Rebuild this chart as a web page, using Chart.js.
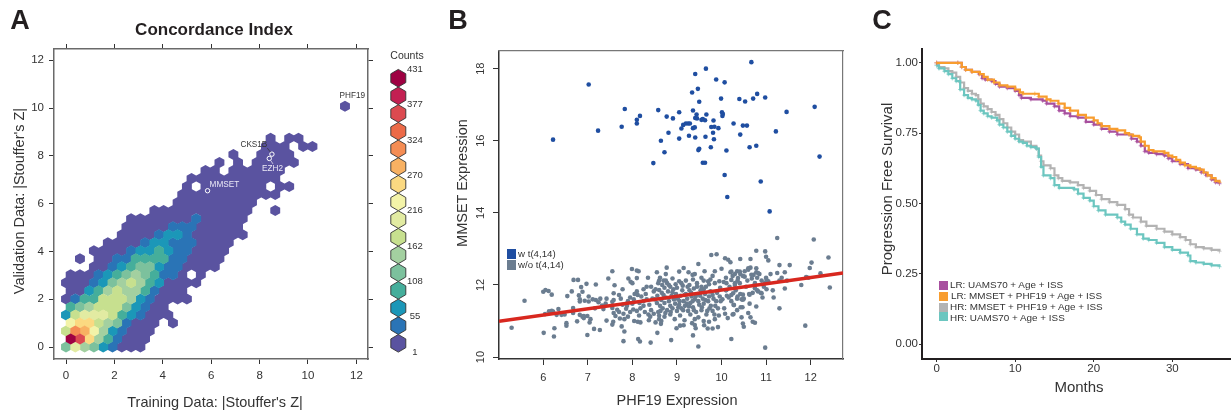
<!DOCTYPE html>
<html lang="en">
<head>
<meta charset="UTF-8">
<title>Concordance Index</title>
<script src="https://cdn.jsdelivr.net/npm/chart.js@4/dist/chart.umd.min.js"></script>
<style>
    html, body { margin: 0; padding: 0; background: #fff; overflow: hidden; }
    body { width: 1231px; height: 413px; position: relative; font-family: "Liberation Sans", sans-serif; color: #333; }
    canvas { position: absolute; }
    .t { position: absolute; white-space: nowrap; transform: translate(-50%, -50%); }
    .rot { transform: translate(-50%, -50%) rotate(-90deg); }
    .letter { font-size: 27px; font-weight: bold; color: #231f20; }
    .axis { font-size: 14.5px; }
    .key { position: absolute; width: 9px; height: 10px; }
    .keytext { position: absolute; white-space: nowrap; transform: translateY(-50%); }
</style>
</head>
<body>
<canvas id="hexChart" width="380" height="413" style="left:0;top:0"></canvas>
<canvas id="countChart" width="60" height="300" style="left:380px;top:60px"></canvas>
<canvas id="exprChart" width="420" height="413" style="left:440px;top:0"></canvas>
<canvas id="survChart" width="371" height="413" style="left:860px;top:0"></canvas>

<div class="t letter" style="left:20px;top:20px">A</div>
<div class="t letter" style="left:458px;top:20px">B</div>
<div class="t letter" style="left:882px;top:20px">C</div>

<div class="t" style="left:214px;top:30px;font-size:17px;font-weight:bold;color:#231f20">Concordance Index</div>
<div class="t axis" style="left:215px;top:402px">Training Data: |Stouffer's Z|</div>
<div class="t axis rot" style="left:19px;top:201px">Validation Data: |Stouffer's Z|</div>
<div class="t" style="left:407px;top:55px;font-size:10.5px">Counts</div>

<div class="t axis" style="left:677px;top:400px">PHF19 Expression</div>
<div class="t axis rot" style="left:462px;top:183px">MMSET Expression</div>
<div class="key" style="left:507px;top:249px;background:#1f4ea1"></div>
<div class="key" style="left:507px;top:260px;background:#6b7d90"></div>
<div class="keytext" style="left:518px;top:253px;font-size:9.7px">w t(4,14)</div>
<div class="keytext" style="left:518px;top:264px;font-size:9.7px">w/o t(4,14)</div>

<div class="t axis" style="left:1079px;top:386px;font-size:15px">Months</div>
<div class="t axis rot" style="left:886px;top:189px;font-size:15px">Progression Free Survival</div>
<div class="key" style="left:939px;top:281px;height:9px;background:#a8509f"></div>
<div class="key" style="left:939px;top:292px;height:9px;background:#f89d2f"></div>
<div class="key" style="left:939px;top:303px;height:9px;background:#b3b3b3"></div>
<div class="key" style="left:939px;top:312px;height:9px;background:#6cc6c0"></div>
<div class="keytext" style="left:950px;top:284px;font-size:9.9px">LR: UAMS70 + Age + ISS</div>
<div class="keytext" style="left:951px;top:295px;font-size:9.9px">LR: MMSET + PHF19 + Age + ISS</div>
<div class="keytext" style="left:950px;top:306px;font-size:9.9px">HR: MMSET + PHF19 + Age + ISS</div>
<div class="keytext" style="left:950px;top:317px;font-size:9.9px">HR: UAMS70 + Age + ISS</div>

<script>
    // ---------- panel A: hexbin ----------
    const _ = null
    const hexColors = ['#5a53a0', '#2a74b6', '#1b97b8', '#45ae9b', '#7cc19d', '#a3d0a0', '#c7e08f', '#e2eba2',
        '#f3f3a8', '#fbd981', '#f8b162', '#f58d54', '#ec6a48', '#dc4a50', '#c32052', '#9e0142']
    const countLabels = ['1', '55', '108', '162', '216', '270', '324', '377', '431']
    const countTicks = [-0.5, 1.5, 3.5, 5.5, 7.5, 9.5, 11.5, 13.5, 15.5]
    const binX = 0.3843
    const binY = 0.3358
    // one row per hex row, bottom to top, value = colour bin of the counts key
    const hexRows = [
        [4, 7, 5, 4, 2, 1, 0, 0, 0],
        [15, 13, 9, 5, 3, 1, 0, 0, 0],
        [6, 11, 10, 8, 5, 2, 1, 0, 0, 0],
        [8, 9, 9, 6, 5, 4, 1, 0, 0, 0, _, 0],
        [2, 6, 7, 7, 7, 6, 3, 2, 1, 0, 0, 0],
        [3, 4, 5, 6, 6, 6, 4, 2, 1, 0, 0],
        [0, 1, 3, 3, 6, 6, 6, 5, 2, 1, 0, 0, 0, 0],
        [0, 0, 2, 3, 5, 6, 5, 5, 3, 1, 0, 0, 0],
        [0, 0, 0, 1, 2, 4, 5, 6, 5, 3, 2, 0, 0, 0, 0],
        [0, 0, 0, 1, 2, 3, 4, 5, 4, 3, 1, 1, 0, _, 0],
        [_, _, _, 0, 0, 1, 2, 3, 4, 4, 2, 1, 1, 0, 0, 0, 0],
        [_, 0, _, 0, 0, 1, 1, 3, 3, 3, 3, 1, 1, 0, 0, 0, 0],
        [_, _, _, 0, 0, 0, 0, 1, 2, 2, 3, 2, 1, 1, 0, 0, 0, 0],
        [_, _, _, _, 0, 0, 0, 0, 1, 2, 2, 1, 1, 1, 0, 0, 0, 0],
        [_, _, _, _, _, _, 0, 0, 0, 0, 1, 2, 2, 1, 0, 0, 0, 0, 0, 0],
        [_, _, _, _, _, _, 0, 0, 0, 0, 0, 1, 1, 1, 0, 0, 0, 0, 0],
        [_, _, _, _, _, _, _, 0, 0, 0, 0, 0, 0, 0, 1, 0, 0, 0, 0, 0],
        [_, _, _, _, _, _, _, _, _, 0, 0, 0, 0, 0, 0, 0, 0, 0, 0, 0, _, _, 0],
        [_, _, _, _, _, _, _, _, _, _, _, _, 0, 0, 0, 0, 0, 0, 0, 0, 0],
        [_, _, _, _, _, _, _, _, _, _, _, _, 0, 0, 0, 0, 0, 0, 0, 0, 0, 0, 0],
        [_, _, _, _, _, _, _, _, _, _, _, _, _, 0, _, 0, 0, 0, 0, 0, 0, 0, _, 0, 0],
        [_, _, _, _, _, _, _, _, _, _, _, _, _, 0, 0, 0, 0, 0, 0, 0, 0, 0, 0],
        [_, _, _, _, _, _, _, _, _, _, _, _, _, _, _, 0, 0, _, 0, 0, 0, 0, 0, 0],
        [_, _, _, _, _, _, _, _, _, _, _, _, _, _, _, _, 0, _, 0, _, 0, 0, 0, 0, 0],
        [_, _, _, _, _, _, _, _, _, _, _, _, _, _, _, _, _, _, 0, _, _, 0, 0, 0, 0],
        [_, _, _, _, _, _, _, _, _, _, _, _, _, _, _, _, _, _, _, _, _, 0, 0, 0, _, 0, 0],
        [_, _, _, _, _, _, _, _, _, _, _, _, _, _, _, _, _, _, _, _, _, _, 0, _, 0, 0],
        [],
        [],
        [],
        [_, _, _, _, _, _, _, _, _, _, _, _, _, _, _, _, _, _, _, _, _, _, _, _, _, _, _, _, _, _, 0]
    ]
    const geneNames = ['MMSET', 'CKS1B', 'EZH2', 'PHF19']
    const geneX = [5.85, 8.51, 8.40, 11.53]
    const geneY = [6.54, 8.07, 7.89, 10.07]
    const axisTicksA = [0, 2, 4, 6, 8, 10, 12]

    // ---------- panel B: scatter ----------
    const ticksBX = [6, 7, 8, 9, 10, 11, 12]
    const ticksBY = [10, 12, 14, 16, 18]
    const fitLineX = [5.007, 12.726]
    const fitLineY = [10.99, 12.33]
    const withT414 = [
        [6.22, 16.03], [7.02, 17.56], [7.23, 16.28], [7.76, 16.39], [7.83, 16.88], [8.1, 16.58], [8.1, 16.48], [8.17, 16.69],
        [8.47, 15.38], [8.58, 16.85], [8.64, 16.0], [8.72, 15.68], [8.77, 16.67], [8.81, 16.22], [8.91, 16.62], [9.05, 16.79],
        [9.05, 16.06], [9.1, 16.34], [9.14, 16.44], [9.2, 16.48], [9.25, 16.48], [9.29, 16.48], [9.27, 16.14], [9.34, 17.34],
        [9.36, 16.84], [9.36, 16.35], [9.4, 16.37], [9.41, 17.85], [9.41, 16.09], [9.41, 16.63], [9.44, 16.73], [9.45, 16.62],
        [9.47, 17.44], [9.5, 17.08], [9.48, 15.74], [9.5, 15.78], [9.55, 16.58], [9.58, 16.6], [9.58, 15.39], [9.63, 15.39],
        [9.63, 16.57], [9.64, 16.11], [9.65, 18.0], [9.66, 16.73], [9.76, 15.82], [9.77, 16.38], [9.81, 16.22], [9.82, 16.56],
        [9.83, 16.04], [9.84, 16.39], [9.88, 17.7], [9.93, 16.35], [9.99, 17.17], [10.01, 16.79], [10.02, 16.69], [10.03, 16.74],
        [10.07, 17.62], [10.07, 15.05], [10.11, 15.73], [10.13, 14.44], [10.27, 16.48], [10.4, 17.16], [10.42, 16.17], [10.48, 16.42],
        [10.57, 16.42], [10.53, 17.09], [10.63, 15.82], [10.67, 18.18], [10.71, 17.17], [10.78, 15.86], [10.8, 17.3], [10.88, 14.87],
        [10.98, 17.2], [11.08, 14.04], [11.22, 16.26], [11.46, 16.8], [12.09, 16.94], [12.2, 15.56]
    ]
    const withoutT414 = [
        [5.29, 10.81], [5.58, 11.56], [6.0, 11.81], [6.05, 11.86], [6.12, 11.83], [6.19, 11.73], [6.01, 10.67], [6.25, 10.8], [6.24, 10.57],
        [6.04, 11.19], [6.13, 11.27], [6.19, 11.28], [6.22, 11.26], [6.3, 11.17], [6.34, 11.33], [6.41, 11.17], [6.48, 11.18], [6.52, 10.94],
        [6.52, 10.87], [6.54, 11.69], [6.64, 11.82], [6.68, 12.14], [6.78, 12.14], [6.67, 11.36], [6.67, 11.22], [6.76, 10.99], [6.85, 11.94],
        [6.88, 11.81], [6.8, 11.71], [6.82, 11.6], [6.82, 11.54], [6.93, 11.56], [7.02, 11.54], [6.97, 12.03], [7.18, 12.01], [6.82, 11.17],
        [6.88, 11.12], [6.91, 11.08], [6.99, 11.14], [6.91, 11.14], [7.06, 11.05], [7.04, 10.96], [7.14, 10.78], [7.27, 10.75], [6.99, 10.61],
        [7.02, 11.68], [7.11, 11.6], [7.18, 11.58], [7.28, 11.62], [7.42, 11.62], [7.24, 11.52], [7.32, 11.43], [7.4, 11.48], [7.55, 11.53],
        [7.58, 11.58], [7.16, 11.35], [7.35, 11.33], [7.55, 11.36], [7.66, 11.31], [7.78, 11.45], [7.7, 11.72], [7.74, 11.62], [7.46, 12.18],
        [7.55, 12.38], [7.6, 11.99], [7.58, 11.77], [7.78, 11.88], [7.42, 11.01], [7.55, 10.9], [7.57, 10.98], [7.76, 10.85], [7.82, 10.71],
        [7.8, 10.44], [7.58, 11.22], [7.62, 11.14], [7.7, 11.25], [7.8, 11.2], [7.86, 11.34], [7.72, 11.07], [7.82, 11.05], [7.9, 11.12],
        [7.95, 11.25], [7.99, 12.44], [8.1, 12.4], [8.14, 12.38], [7.91, 12.18], [7.96, 12.09], [8.0, 12.05], [8.1, 12.19], [8.35, 12.2],
        [8.05, 11.75], [7.95, 11.65], [8.03, 11.6], [8.12, 11.72], [8.2, 11.68], [8.16, 11.5], [8.25, 11.88], [8.32, 11.95], [8.25, 11.55],
        [8.02, 11.32], [8.1, 11.28], [8.18, 11.35], [8.28, 11.25], [8.36, 11.18], [8.04, 11.0], [8.12, 10.98], [8.18, 10.96], [8.37, 11.02],
        [8.13, 10.5], [8.17, 10.43], [8.41, 10.4], [8.56, 10.67], [8.52, 10.96], [8.64, 10.92], [8.65, 11.0], [8.87, 10.47], [8.48, 11.2],
        [8.55, 12.35], [8.62, 12.2], [8.7, 12.12], [8.77, 12.48], [8.58, 12.05], [8.67, 12.0], [8.75, 12.3], [8.78, 12.05], [8.42, 11.95],
        [8.48, 11.82], [8.56, 11.7], [8.6, 11.86], [8.66, 11.78], [8.72, 11.92], [8.8, 11.82], [8.85, 11.95], [8.92, 11.88], [8.97, 12.02],
        [9.05, 12.37], [9.15, 12.47], [9.26, 12.35], [9.05, 12.1], [9.13, 11.98], [9.2, 12.12], [9.28, 12.0], [9.36, 12.15], [9.4, 12.3],
        [9.48, 12.58], [9.45, 12.05], [9.55, 12.2], [9.62, 12.38], [9.7, 12.1], [9.65, 11.95], [9.8, 12.25], [9.85, 12.38], [9.77, 12.83],
        [9.89, 12.85], [10.08, 12.74], [10.15, 12.7], [10.2, 12.63], [10.0, 12.45], [10.1, 12.2], [10.2, 12.35], [10.3, 12.05], [10.25, 12.25],
        [8.5, 11.6], [8.55, 11.5], [8.62, 11.42], [8.65, 11.58], [8.68, 11.35], [8.72, 11.5], [8.75, 11.65], [8.78, 11.3], [8.82, 11.55],
        [8.85, 11.42], [8.88, 11.7], [8.9, 11.35], [8.93, 11.6], [8.96, 11.48], [8.98, 11.75], [9.0, 11.28], [9.02, 11.62], [9.05, 11.45],
        [9.08, 11.7], [9.1, 11.35], [9.12, 11.85], [9.15, 11.55], [9.18, 11.42], [9.2, 11.75], [9.23, 11.62], [9.25, 11.28], [9.28, 11.85],
        [9.3, 11.5], [9.33, 11.68], [9.36, 11.38], [9.38, 11.9], [9.4, 11.6], [9.43, 11.25], [9.46, 11.75], [9.5, 11.45], [9.53, 11.85],
        [9.55, 11.3], [9.58, 11.62], [9.6, 11.48], [9.63, 11.75], [9.66, 11.18], [9.7, 11.55], [9.73, 11.35], [9.75, 11.82], [9.8, 11.28],
        [9.82, 11.62], [9.86, 11.42], [9.9, 11.78], [9.94, 11.15], [9.97, 11.92], [10.02, 11.6], [10.06, 11.35], [10.1, 11.85], [10.14, 11.08],
        [10.18, 11.95], [10.22, 11.72], [10.27, 11.45], [10.32, 11.85], [10.36, 12.12], [10.42, 11.75], [10.47, 11.38], [10.5, 11.62],
        [10.55, 11.95], [10.6, 11.22], [8.6, 11.15], [8.72, 11.12], [8.85, 11.18], [8.95, 11.05], [9.07, 11.15], [9.17, 11.02], [9.3, 11.18],
        [9.4, 11.05], [9.48, 11.1], [9.6, 11.0], [9.72, 10.98], [9.85, 11.05], [8.99, 10.8], [9.07, 10.87], [9.15, 10.88], [9.34, 10.94],
        [9.4, 10.89], [9.42, 10.8], [9.61, 10.88], [9.69, 10.79], [9.8, 10.79], [9.92, 10.83], [9.36, 10.6], [9.48, 10.29], [10.22, 10.5],
        [10.98, 10.26], [11.88, 10.87], [9.98, 11.55], [10.08, 11.2], [10.12, 11.7], [10.25, 11.18], [10.35, 11.3], [10.45, 11.1], [10.48, 10.93],
        [10.5, 10.84], [10.65, 11.1], [10.7, 10.98], [10.75, 10.95], [10.78, 11.4], [10.3, 12.3], [10.35, 12.38], [10.42, 12.3], [10.48, 12.25],
        [10.52, 12.38], [10.6, 12.42], [10.65, 12.48], [10.72, 12.28], [10.78, 12.35], [10.85, 12.3], [10.58, 12.12], [10.68, 12.18], [10.75, 12.05],
        [10.8, 12.2], [10.9, 12.12], [10.95, 11.95], [11.0, 12.2], [11.02, 12.08], [10.62, 11.75], [10.7, 11.78], [10.8, 11.85], [10.88, 11.78],
        [10.92, 11.65], [11.15, 11.85], [11.17, 11.65], [11.3, 11.35], [10.65, 12.72], [10.78, 12.95], [10.98, 12.93], [11.0, 12.78], [11.05, 12.68],
        [11.25, 13.3], [11.3, 12.55], [11.53, 12.55], [10.42, 12.72], [11.35, 12.2], [11.25, 12.33], [11.3, 12.12], [11.47, 12.12], [11.42, 11.9],
        [11.79, 12.0], [11.95, 12.2], [11.98, 12.47], [12.02, 12.62], [12.07, 13.26], [12.22, 12.32], [12.4, 12.76], [12.43, 11.93], [11.1, 12.3],
        [11.05, 12.1], [10.45, 11.6], [10.22, 11.55], [10.35, 11.62], [9.95, 12.1], [10.05, 12.08], [9.72, 12.02], [9.55, 11.95], [9.85, 12.05],
        [10.6, 12.46], [10.41, 12.37], [10.22, 12.37], [10.78, 12.46], [10.82, 12.33], [10.67, 12.28], [10.52, 12.23], [10.37, 12.19], [10.22, 12.14],
        [10.11, 12.05], [10.3, 12.0], [10.41, 12.05], [11.01, 12.14], [10.97, 12.05], [10.75, 11.91], [10.82, 11.82], [10.63, 11.73], [10.9, 11.77],
        [11.01, 11.88], [10.48, 11.73], [10.48, 11.59], [10.36, 11.68], [10.16, 11.65], [10.26, 11.77], [10.11, 11.86], [10.63, 11.48], [10.43, 11.38],
        [10.28, 11.44], [10.27, 11.19], [11.42, 12.35], [11.9, 12.22],
        [8.45, 11.62], [8.52, 11.88], [8.6, 12.12], [8.63, 11.28], [8.7, 11.72], [8.74, 11.22], [8.82, 12.0], [8.86, 11.25], [8.9, 11.8],
        [8.95, 11.62], [9.0, 11.92], [9.03, 11.38], [9.06, 11.55], [9.1, 12.05], [9.14, 11.3], [9.17, 11.72], [9.22, 11.48], [9.24, 11.95],
        [9.27, 11.4], [9.32, 11.78], [9.35, 11.55], [9.38, 11.3], [9.42, 11.68], [9.45, 11.95], [9.48, 11.55], [9.52, 11.7], [9.56, 11.38],
        [9.6, 11.88], [9.64, 11.58], [9.68, 11.28], [9.72, 11.68], [9.76, 11.42], [9.8, 11.72], [9.84, 11.18], [9.88, 11.55], [9.92, 11.35],
        [9.96, 11.68], [9.75, 12.15], [9.6, 12.12], [9.35, 12.28], [8.9, 12.18], [8.75, 12.12], [8.3, 11.75], [8.38, 11.45], [8.42, 11.3],
        [8.32, 11.6], [8.25, 11.42], [8.15, 11.15], [8.0, 11.48], [7.9, 11.55], [7.88, 11.42], [8.58, 11.25], [8.4, 11.12], [8.6, 11.05], [8.1, 11.82]
    ]

    // ---------- panel C: survival curves, [months, survival] ----------
    const ticksCX = [0, 10, 20, 30]
    const ticksCY = [0, 0.25, 0.5, 0.75, 1]
    const lrMmset = [[0, 1], [2.7, 1], [3.2, .985], [3.7, .975], [4.5, .968], [5.5, .96], [6, .95], [6.5, .94], [7.3, .93], [8, .92], [9, .915], [10, .905],
        [10.6, .895], [11, .89], [12.5, .89], [13, .88], [14, .87], [14.5, .865], [15.5, .855], [16.3, .84], [17, .83], [18, .815], [19, .805], [20, .795],
        [20.5, .785], [21, .775], [22, .765], [23, .76], [24, .75], [24.5, .745], [25, .74], [25.8, .735], [26, .72], [26.5, .705], [27, .69], [27.6, .685],
        [29, .68], [29.5, .67], [30, .665], [30.5, .655], [31, .645], [31.6, .635], [32.3, .63], [33, .625], [33.5, .62], [34, .61], [34.5, .6], [35, .59],
        [35.5, .58], [36, .575]]
    const lrUams = [[0, 1], [2.7, 1], [3.2, .985], [3.7, .975], [4.5, .968], [5.4, .96], [5.8, .945], [6.2, .94], [7, .935], [7.5, .925], [8, .915], [9, .91],
        [10, .9], [10.5, .885], [10.8, .875], [12, .87], [13.5, .865], [14, .855], [15, .845], [15.6, .83], [16.3, .82], [17, .81], [18, .805], [19, .79],
        [20, .78], [21, .765], [22, .755], [23, .745], [24.5, .745], [24.8, .73], [25.5, .72], [26, .705], [26.5, .685], [27, .68], [28, .675], [29, .67],
        [29.5, .66], [30, .65], [31, .64], [32, .625], [33, .62], [33.7, .61], [34.3, .6], [35, .585], [35.5, .575], [36, .57]]
    const hrMmset = [[0, .995], [.3, .985], [1, .98], [1.5, .97], [2, .965], [2.5, .95], [3, .93], [3.5, .91], [4, .9], [4.5, .89], [5, .885], [5.3, .87],
        [5.6, .855], [6, .845], [6.5, .835], [7, .825], [7.5, .815], [8, .8], [8.5, .785], [9, .77], [9.5, .755], [10, .745], [10.5, .725], [11, .72],
        [12, .705], [12.7, .695], [13, .67], [13.3, .65], [13.6, .635], [14.5, .625], [15, .6], [15.5, .59], [16, .58], [17, .575], [18, .565], [18.7, .555],
        [19.5, .545], [20.3, .53], [21, .515], [22, .505], [23, .495], [24, .48], [24.5, .46], [25, .45], [26, .435], [26.7, .42], [28, .41], [29, .4],
        [30, .39], [31, .38], [31.7, .37], [32.3, .355], [33, .345], [34, .34], [35, .335], [36, .33]]
    const hrUams = [[0, .99], [.3, .98], [1, .97], [1.5, .96], [2, .945], [2.5, .935], [3, .905], [3.5, .885], [4, .875], [4.5, .87], [5, .865], [5.3, .85],
        [5.6, .83], [6, .82], [6.5, .81], [7, .805], [7.7, .795], [8, .78], [8.5, .77], [9, .755], [9.5, .74], [10, .73], [10.5, .72], [11, .715], [11.5, .705],
        [12, .7], [12.7, .695], [13, .665], [13.3, .63], [13.6, .6], [14.5, .59], [15, .565], [15.6, .555], [17.5, .55], [18, .535], [18.7, .52], [19.5, .51],
        [20, .49], [20.6, .475], [21.5, .46], [23, .45], [23.5, .435], [24, .425], [24.7, .41], [25.5, .39], [26.3, .375], [27, .37], [28, .36], [29, .345],
        [30, .335], [31, .325], [32, .315], [32.3, .295], [33, .29], [34, .285], [35, .28], [36, .275]]

    // ---------- helpers ----------
    const tickFont = size => ({ family: '"Liberation Sans", sans-serif', size: size })
    const toXY = list => list.map(p => ({ x: p[0], y: p[1] }))
    const setTicks = values => scale => { scale.ticks = values.map(v => ({ value: v })) }
    const fixWidth = w => scale => { scale.width = w }
    const fixHeight = h => scale => { scale.height = h }

    // paints the points of the last dataset as pointy-top hexagons, one path per colour bin
    function hexCells(w, h, stroke) {
        return {
            id: 'hexCells',
            beforeDatasetsDraw(chart) {
                const g = chart.ctx
                const last = chart.data.datasets.length - 1
                const points = chart.getDatasetMeta(last).data
                const raw = chart.data.datasets[last].data
                g.save()
                hexColors.forEach((color, bin) => {
                    g.beginPath()
                    points.forEach((p, i) => {
                        if (raw[i].bin !== bin) return
                        g.moveTo(p.x, p.y - h / 2)
                        g.lineTo(p.x + w / 2, p.y - h / 4)
                        g.lineTo(p.x + w / 2, p.y + h / 4)
                        g.lineTo(p.x, p.y + h / 2)
                        g.lineTo(p.x - w / 2, p.y + h / 4)
                        g.lineTo(p.x - w / 2, p.y - h / 4)
                        g.closePath()
                    })
                    g.fillStyle = color
                    g.fill()
                    if (stroke) {
                        g.strokeStyle = stroke
                        g.lineWidth = 0.9
                        g.stroke()
                    }
                })
                g.restore()
            }
        }
    }

    // ---------- chart A ----------
    const hexPoints = []
    hexRows.forEach((row, r) => {
        row.forEach((bin, col) => {
            if (bin === null) return
            hexPoints.push({ x: (col + (r % 2) / 2) * binX, y: r * binY, bin: bin })
        })
    })

    const geneLabels = {
        id: 'geneLabels',
        afterDatasetsDraw(chart) {
            const g = chart.ctx
            const styles = {
                MMSET: { dx: 2, dy: -5.6, align: 'left', color: '#ebe9f6' },
                CKS1B: { dx: -4.6, dy: -9.3, align: 'right', color: '#333', lead: [-4.6, -6, -1.5, -2] },
                EZH2: { dx: 3.3, dy: 9.8, align: 'center', color: '#ebe9f6', lead: [1.5, 2, 3.7, 5.5] },
                PHF19: { dx: 7.3, dy: -10.4, align: 'center', color: '#333' }
            }
            g.save()
            g.font = '8.2px "Liberation Sans", sans-serif'
            g.textBaseline = 'middle'
            geneNames.forEach((name, i) => {
                const s = styles[name]
                const px = chart.scales.x.getPixelForValue(geneX[i])
                const py = chart.scales.y.getPixelForValue(geneY[i])
                g.fillStyle = s.color
                g.textAlign = s.align
                g.fillText(name, px + s.dx, py + s.dy)
                if (s.lead) {
                    g.strokeStyle = s.color
                    g.lineWidth = 0.7
                    g.beginPath()
                    g.moveTo(px + s.lead[0], py + s.lead[1])
                    g.lineTo(px + s.lead[2], py + s.lead[3])
                    g.stroke()
                }
            })
            g.restore()
        }
    }

    const boxA = { color: '#6a6a6a', width: 1.5 }
    const gridA = { drawOnChartArea: false, tickLength: 5, tickColor: '#333', tickWidth: 1 }
    new Chart(document.getElementById('hexChart'), {
        type: 'scatter',
        data: {
            datasets: [{
                data: geneNames.slice(0, 3).map((n, i) => ({ x: geneX[i], y: geneY[i] })),
                pointStyle: 'circle', pointRadius: 2.2, backgroundColor: 'transparent',
                borderColor: '#fff', borderWidth: 1
            }, {
                data: hexPoints,
                pointRadius: 0
            }]
        },
        options: {
            responsive: false, animation: false,
            layout: { autoPadding: false, padding: 0 },
            plugins: { legend: { display: false }, tooltip: { enabled: false } },
            scales: {
                x: {
                    type: 'linear', position: 'bottom', min: -0.496, max: 12.48, bounds: 'data',
                    afterBuildTicks: setTicks(axisTicksA), afterFit: fixHeight(54),
                    border: boxA, grid: gridA,
                    ticks: { autoSkip: false, maxRotation: 0, padding: 5, color: '#333', font: tickFont(11.5), callback: v => String(v) }
                },
                y: {
                    type: 'linear', position: 'left', min: -0.5, max: 12.47, bounds: 'data',
                    afterBuildTicks: setTicks(axisTicksA), afterFit: fixWidth(54),
                    border: boxA, grid: gridA,
                    ticks: { autoSkip: false, padding: 5, color: '#333', font: tickFont(11.5), callback: v => String(v) }
                },
                x2: {
                    type: 'linear', position: 'top', min: -0.496, max: 12.48, bounds: 'data',
                    afterBuildTicks: setTicks(axisTicksA), afterFit: fixHeight(49),
                    border: boxA, grid: gridA, ticks: { display: false, autoSkip: false }
                },
                y2: {
                    type: 'linear', position: 'right', min: -0.5, max: 12.47, bounds: 'data',
                    afterBuildTicks: setTicks(axisTicksA), afterFit: fixWidth(12),
                    border: boxA, grid: gridA, ticks: { display: false, autoSkip: false }
                }
            }
        },
        plugins: [hexCells(9.9, 11), geneLabels]
    })

    // counts key beside panel A
    new Chart(document.getElementById('countChart'), {
        type: 'scatter',
        data: {
            datasets: [{
                data: hexColors.map((c, i) => ({ x: 18.3, y: i, bin: i })),
                pointRadius: 0
            }]
        },
        options: {
            responsive: false, animation: false,
            layout: { autoPadding: false, padding: 0 },
            plugins: { legend: { display: false }, tooltip: { enabled: false } },
            scales: {
                x: { type: 'linear', display: false, min: 0, max: 26, bounds: 'data' },
                y: {
                    type: 'linear', position: 'right', min: -0.565, max: 15.65, bounds: 'data',
                    afterBuildTicks: setTicks(countTicks), afterFit: fixWidth(34),
                    border: { display: false }, grid: { display: false, drawTicks: false },
                    ticks: {
                        autoSkip: false, crossAlign: 'center', padding: 1, color: '#333', font: tickFont(9.5),
                        callback: (v, i) => countLabels[i]
                    }
                }
            }
        },
        plugins: [hexCells(15, 17.6, '#333')]
    })

    // ---------- chart B ----------
    const softBox = { color: '#777', width: 1.2 }
    new Chart(document.getElementById('exprChart'), {
        type: 'scatter',
        data: {
            datasets: [{
                data: fitLineX.map((x, i) => ({ x: x, y: fitLineY[i] })),
                showLine: true, borderColor: '#d8281f', borderWidth: 3.4, pointRadius: 0
            }, {
                data: toXY(withT414),
                backgroundColor: '#1f4ea1', borderWidth: 0, pointRadius: 2.3
            }, {
                data: toXY(withoutT414),
                backgroundColor: '#6b7d90', borderWidth: 0, pointRadius: 2.3
            }]
        },
        options: {
            responsive: false, animation: false,
            layout: { autoPadding: false, padding: 0 },
            plugins: { legend: { display: false }, tooltip: { enabled: false } },
            scales: {
                x: {
                    type: 'linear', position: 'bottom', min: 5.007, max: 12.726, bounds: 'data',
                    afterBuildTicks: setTicks(ticksBX), afterFit: fixHeight(54),
                    border: { color: '#333', width: 1.5 },
                    grid: { drawOnChartArea: false, tickLength: 6, tickColor: '#333' },
                    ticks: { autoSkip: false, maxRotation: 0, padding: 6, color: '#333', font: tickFont(11), callback: v => String(v) }
                },
                y: {
                    type: 'linear', position: 'left', min: 9.945, max: 18.49, bounds: 'data',
                    afterBuildTicks: setTicks(ticksBY), afterFit: fixWidth(59),
                    border: { color: '#333', width: 1.5 },
                    grid: { drawOnChartArea: false, tickLength: 6, tickColor: '#333' },
                    ticks: {
                        autoSkip: false, minRotation: 90, maxRotation: 90, crossAlign: 'center', padding: 6,
                        color: '#333', font: tickFont(11), callback: v => String(v)
                    }
                },
                x2: {
                    type: 'linear', position: 'top', min: 5.007, max: 12.726, bounds: 'data',
                    afterBuildTicks: setTicks([]), afterFit: fixHeight(51),
                    border: softBox, grid: { drawOnChartArea: false, drawTicks: false }, ticks: { display: false }
                },
                y2: {
                    type: 'linear', position: 'right', min: 9.945, max: 18.49, bounds: 'data',
                    afterBuildTicks: setTicks([]), afterFit: fixWidth(17),
                    border: softBox, grid: { drawOnChartArea: false, drawTicks: false }, ticks: { display: false }
                }
            }
        }
    })

    // ---------- chart C ----------
    function curve(list, color, faint) {
        return {
            data: toXY(list), showLine: true, stepped: true,
            borderColor: color, borderWidth: 2.2,
            pointStyle: 'cross', pointRadius: 2.2, pointBorderWidth: 1,
            pointBorderColor: faint, pointBackgroundColor: faint
        }
    }
    new Chart(document.getElementById('survChart'), {
        type: 'scatter',
        data: {
            datasets: [
                curve(lrMmset, '#f89d2f', 'rgba(248,157,47,0.6)'),
                curve(lrUams, '#a8509f', 'rgba(168,80,159,0.6)'),
                curve(hrUams, '#6cc6c0', 'rgba(108,198,192,0.6)'),
                curve(hrMmset, '#b3b3b3', 'rgba(179,179,179,0.6)')
            ]
        },
        options: {
            responsive: false, animation: false,
            layout: { autoPadding: false, padding: { top: 49 } },
            plugins: { legend: { display: false }, tooltip: { enabled: false } },
            scales: {
                x: {
                    type: 'linear', position: 'bottom', min: -1.86, max: 37.47, bounds: 'data',
                    afterBuildTicks: setTicks(ticksCX), afterFit: fixHeight(54),
                    border: { color: '#231f20', width: 2 },
                    grid: { drawOnChartArea: false, tickLength: 3, tickColor: '#333' },
                    ticks: { autoSkip: false, maxRotation: 0, padding: 0, color: '#333', font: tickFont(11.5), callback: v => String(v) }
                },
                y: {
                    type: 'linear', position: 'left', min: -0.053, max: 1.049, bounds: 'data',
                    afterBuildTicks: setTicks(ticksCY), afterFit: fixWidth(62),
                    border: { color: '#231f20', width: 2 },
                    grid: { drawOnChartArea: false, tickLength: 3, tickColor: '#333' },
                    ticks: { autoSkip: false, padding: 1, color: '#333', font: tickFont(11.5), callback: v => v.toFixed(2) }
                }
            }
        }
    })
</script>
</body>
</html>
